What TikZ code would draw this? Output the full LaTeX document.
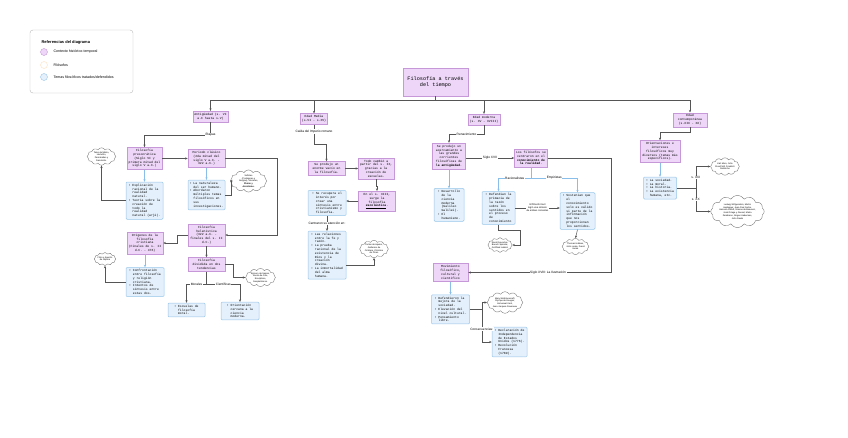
\documentclass[tikz,border=0pt]{standalone}
\usepackage{fontspec}
\setmainfont{Liberation Sans}
\newfontfamily\monofont{Liberation Mono}
\usetikzlibrary{shapes,arrows.meta,positioning,calc}
\definecolor{eraFill}{RGB}{237,214,247}
\definecolor{eraLine}{RGB}{198,152,216}
\definecolor{themeFill}{RGB}{228,240,251}
\definecolor{themeLine}{RGB}{152,197,233}
\definecolor{linkGray}{RGB}{85,85,85}
\definecolor{linkBlue}{RGB}{138,190,234}
\definecolor{cloudLine}{RGB}{125,125,125}
\newcommand{\ind}{\hphantom{•\ }}

\begin{document}
\begin{tikzpicture}[
    x=1pt, y=-1pt,
    node distance=12pt,
    era/.style={rectangle, draw=eraLine, fill=eraFill, line width=0.5pt, align=center, inner xsep=1.5pt, inner ysep=2pt, font=\monofont\fontsize{3.1}{3.8}\selectfont},
    theme/.style={rectangle, rounded corners=1pt, draw=themeLine, fill=themeFill, line width=0.5pt, align=left, inner xsep=1.5pt, inner ysep=2pt, font=\monofont\fontsize{3.1}{3.8}\selectfont},
    thinker/.style={cloud, cloud puffs=12, cloud puff arc=120, aspect=2, draw=cloudLine, fill=white, line width=0.4pt, align=center, inner sep=0pt, font=\fontsize{2.2}{2.7}\selectfont},
    lbl/.style={fill=white, inner sep=0.6pt, align=center, font=\fontsize{3.2}{3.8}\selectfont},
    link/.style={draw=linkGray, line width=0.5pt, -{Stealth[length=2.6pt,width=2.2pt]}},
    sublink/.style={link, draw=linkBlue},
    dot/.style={circle, minimum size=7pt, inner sep=0pt, line width=0.4pt}
]
    \useasboundingbox (0,0) rectangle (848,438);

    % legend
    \node[draw=gray!55, rounded corners=3pt, line width=0.4pt, minimum width=103pt, minimum height=63pt] (legend) at (81.5,61.5) {};
    \node[anchor=west, font=\bfseries\fontsize{4}{4.8}\selectfont] (legtitle) at (38,42) {Referencias del diagrama};
    \node[dot, draw=eraLine, fill=eraFill] (legera) at (44,52) {};
    \node[dot, draw=orange!25, fill=white] (legphil) at (44,65) {};
    \node[dot, draw=themeLine, fill=themeFill] (legtheme) at (44,77) {};
    \node[anchor=west, font=\fontsize{3.6}{4.2}\selectfont] (legeratxt) at (50,52) {Contexto histórico-temporal};
    \node[anchor=west, font=\fontsize{3.6}{4.2}\selectfont] (legphiltxt) at (50,65) {Filósofos};
    \node[anchor=west, font=\fontsize{3.6}{4.2}\selectfont] (legthemetxt) at (50,77) {Temas filosóficos tratados/defendidos};

    \node[era, minimum width=65pt, minimum height=28pt, font=\monofont\fontsize{5.2}{6.3}\selectfont] (title) at (435.5,82) {Filosofía a través\\del tiempo};

    % Antigüedad
    \node[era, minimum width=35pt] (ant) at (210.5,116.5) {Antigüedad (s. VI\\a.C hasta s.V)};
    \node[era, minimum width=35pt] (presoc) at (144.5,158.5) {Filosofía\\presocrática\\(Siglo VI y\\primera mitad del\\siglo V a.C.)};
    \node[era, minimum width=37pt] (clasico) at (206.5,158.5) {Periodo clásico\\(2da mitad del\\siglo V a.C. -\\322 a.C.)};
    \node[theme, minimum width=37pt, below=12pt of presoc] (explic) {• Explicación\\\ind racional de la\\\ind realidad\\\ind natural.\\• Teoría sobre la\\\ind creación de\\\ind todo la\\\ind realidad\\\ind natural (arjé).};
    \node[theme, minimum width=37pt, below=12pt of clasico] (natur) {• La naturaleza\\\ind del ser humano.\\• Abordaron\\\ind múltiples temas\\\ind filosóficos en\\\ind sus\\\ind investigaciones.};
    \node[thinker] (tales) at (101.5,156.5) {Tales de Mileto,\\Heráclito,\\Parménides y\\Demócrito.};
    \node[thinker] (sofistas) at (248.5,181) {Sofistas\\(Protágoras y\\Gorgias), Sócrates,\\\textbf{Platón y}\\\textbf{Aristóteles.}};
    \node[era, minimum width=37pt] (hel) at (206.5,235) {Filosofía\\helenística\\(322 a.C. -\\finales del s. II\\d.C.)};
    \node[era, minimum width=36pt] (orig) at (145,243) {Orígenes de la\\filosofía\\cristiana\\(Finales de s. II\\d.C. - 476)};
    \node[theme, minimum width=38pt, below=13pt of orig] (confr) {• Confrontación\\\ind entre filosofía\\\ind y religión\\\ind cristiana.\\• Intentos de\\\ind síntesis entre\\\ind estas dos.};
    \node[thinker] (filon) at (105,259) {Filón y Agustín\\de Hipona};
    \node[era, minimum width=37pt, below=11pt of hel] (divid) {Filosofía\\dividida en dos\\tendencias};
    \node[thinker] (epicuro) at (260.5,277.5) {Epicuro de Samos,\\Zenón de Citio,\\Escépticos,\\Neoplatónicos.};
    \node[theme, minimum width=37pt] (moral) at (186.5,310) {• Escuelas de\\\ind filosofía\\\ind moral.};
    \node[theme, minimum width=38pt] (cienc) at (240,311) {• Orientación\\\ind cercana a la\\\ind ciencia\\\ind moderna.};

    % Edad Media
    \node[era, minimum width=26pt] (med) at (314,119) {Edad Media\\(s.VI - s.XV)};
    \node[era, minimum width=37pt] (vacio) at (326.5,168.5) {Se produjo un\\enorme vacío en\\la filosofía.};
    \node[era, minimum width=30pt, right=13pt of vacio] (todo) {Todo cambió a\\partir del s. IX,\\gracias a la\\creación de\\escuelas.};
    \node[era, minimum width=37pt] (esc) at (377,201) {En el s. XIII,\\surge la\\filosofía\\\textbf{\underline{escolástica}}.};
    \node[theme, minimum width=38pt] (recup) at (327,203) {• Se recupera el\\\ind interés por\\\ind crear una\\\ind síntesis entre\\\ind cristianismo y\\\ind filosofía.};
    \node[theme, minimum width=38pt, below=15pt of recup] (rel) {• Las relaciones\\\ind entre la fe y\\\ind razón.\\• La prueba\\\ind racional de la\\\ind existencia de\\\ind Dios y la\\\ind creación\\\ind divina.\\• La inmortalidad\\\ind del alma\\\ind humana.};
    \node[thinker] (aquino) at (374,249) {Tomás de Aquino,\\Guillermo de\\Ockham, Christine\\de Pizan};

    % Edad moderna
    \node[era, minimum width=31pt] (mod) at (484,119.5) {Edad moderna\\(s. XV - XVIII)};
    \node[era, minimum width=33pt] (acerc) at (449,156) {Se produjo un\\acercamiento a\\las grandes\\corrientes\\filosóficas de\\\textbf{la antigüedad}.};
    \node[era, minimum width=33pt] (filos) at (531,158) {Los filósofos se\\centraron en el\\\textbf{conocimiento de}\\\textbf{la realidad}.};
    \node[theme, minimum width=30pt, below=19pt of acerc] (desar) {• Desarrollo\\\ind de la\\\ind ciencia\\\ind moderna\\\ind (Galileo\\\ind Galilei).\\• El\\\ind humanismo.};
    \node[theme, minimum width=33pt] (rac) at (498.5,208) {• Defendían la\\\ind primacía de\\\ind la razón\\\ind sobre los\\\ind sentidos en\\\ind el proceso\\\ind de\\\ind conocimiento};
    \node[theme, minimum width=35pt] (emp) at (577.5,211) {• Sostenían que\\\ind el\\\ind conocimiento\\\ind solo es válido\\\ind si parte de la\\\ind información\\\ind que nos\\\ind proporcionan\\\ind los sentidos.};
    \node[thinker] (descartes) at (500,245) {René Descartes,\\Baruch Spinoza,\\Gottfried Leibniz};
    \node[thinker] (hobbes) at (575.5,246.5) {Thomas Hobbes,\\John Locke, David\\Hume};
    \node[era, minimum width=35pt] (movim) at (450.5,272.5) {Movimiento\\filosófico,\\cultural y\\científico};
    \node[theme, minimum width=38pt, below=13pt of movim] (defend) {• Defendieron la\\\ind mejora de la\\\ind sociedad.\\• Elevación del\\\ind nivel cultural.\\• Pensamiento\\\ind libre.};
    \node[thinker] (wollst) at (505,302.5) {Mary Wollstonecraft,\\Olympe de Gouges,\\Immanuel Kant,\\Jean-Jacques Rousseau};
    \node[theme, minimum width=35pt] (decl) at (509.5,342) {• Declaración de\\\ind Independencia\\\ind de Estados\\\ind Unidos (1776).\\• Revolución\\\ind Francesa\\\ind (1789).};

    % Edad contemporánea
    \node[era, minimum width=34pt] (cont) at (690,120) {Edad\\contemporánea\\(s.XIX - XX)};
    \node[era, minimum width=40pt] (orient) at (660,151.5) {Orientaciones e\\intereses\\filosóficos muy\\diversos (temas más\\específicos).};
    \node[theme, minimum width=33pt, below=14pt of orient] (temas) {• La sociedad.\\• La moral.\\• La historia.\\• La existencia\\\ind humana, etc.};
    \node[thinker] (marx) at (725,166.5) {Karl Marx, John\\Stuart Mill, Friedrich\\Nietzsche};
    \node[thinker] (wittg) at (737.5,211.5) {Ludwig Wittgenstein, Martin\\Heidegger, Jean-Paul Sartre,\\Hannah Arendt, Simone de Beauvoir,\\José Ortega y Gasset, María\\Zambrano, Jürgen Habermas,\\John Rawls};

    % connectors
    \draw[draw=linkGray, line width=0.5pt] (title.south) -- ++(0,4) coordinate (hub);
    \draw[link] (hub) -| (ant.north);
    \draw[link] (hub) -| (med.north);
    \draw[link] (hub) -| (mod.north);
    \draw[link] (hub) -| (cont.north);

    \draw[link] (ant.south) -- ++(0,13) node[lbl]{Etapas} -| (presoc.north);
    \draw[link] (presoc.east) -- (clasico.west);
    \draw[link] (clasico.east) -- ++(52,0) |- (hel.east);
    \draw[sublink] (presoc.south) -- (explic.north);
    \draw[sublink] (clasico.south) -- (natur.north);
    \draw[link] (explic.west) -| (tales.south);
    \draw[link] (natur.east) -- ++(6,0) |- (sofistas.west);
    \draw[link] (hel.west) -- ++(-11,0) |- (orig.east);
    \draw[sublink] (orig.south) -- (confr.north);
    \draw[link] (confr.west) -| (filon.south);
    \draw[link] (hel.south) -- (divid.north);
    \draw[link] (divid.east) -- ++(8,0) |- (epicuro.west);
    \draw[draw=linkGray, line width=0.5pt] (divid.south) -- ++(0,13) coordinate (tsplit);
    \draw[link] (tsplit) -| node[lbl, pos=0.25]{Morales} (moral.north);
    \draw[link] (tsplit) -| node[lbl, pos=0.25]{Científicas} (cienc.north);

    \draw[link] (med.south) -- ++(0,19.5) node[lbl, pos=0.35]{Caída del Imperio romano} -| (vacio.north);
    \draw[link] (vacio.east) -- (todo.west);
    \draw[link] (todo.south) -- ++(0,7) -| (esc.north);
    \draw[link] (esc.west) -- (esc.west -| recup.east);
    \draw[link] (recup.south) -- node[lbl]{Centraron su atención en:} (rel.north);
    \draw[link] ([yshift=-10pt]rel.east) -| (aquino.south);

    \draw[link] (mod.south) -- ++(0,9) -| node[lbl, pos=0.25]{Renacimiento} (acerc.north);
    \draw[link] (acerc.east |- filos.west) -- node[lbl]{Siglo XVII} (filos.west);
    \draw[sublink] (acerc.south) -- (desar.north);
    \draw[draw=linkBlue, line width=0.5pt] (filos.south) -- ++(0,11) coordinate (fsplit);
    \draw[sublink] (fsplit) -| node[lbl, pos=0.25]{Racionalistas} (rac.north);
    \draw[sublink] (fsplit) -| node[lbl, pos=0.25]{Empiristas} (emp.north);
    \draw[link] (rac.east) -- node[lbl, font=\fontsize{2.4}{2.9}\selectfont]{El filósofo Kant\\logró una síntesis\\de ambas corrientes} (rac.east -| emp.west);
    \draw[link] (rac.south) -- ++(0,6) -| ($(descartes.east)+(8,0)$) -- (descartes.east);
    \draw[link] (emp.south) -- (hobbes.north);
    \draw[link] (filos.east) -- ++(63,0) |- node[lbl, pos=0.72]{Siglo XVIII: La Ilustración} (movim.east);
    \draw[sublink] (movim.south) -- (defend.north);
    \draw[draw=linkGray, line width=0.5pt] (defend.east) -- ++(12,0) coordinate (dsplit);
    \draw[link] (dsplit) |- (wollst.west);
    \draw[link] (dsplit) |- node[lbl, pos=0.3]{Consecuencias:} (decl.west);

    \draw[link] (cont.south) -- ++(0,5) -| (orient.north);
    \draw[sublink] (orient.south) -- (temas.north);
    \draw[draw=linkGray, line width=0.5pt] (temas.east) -- ++(19,0) coordinate (csplit);
    \draw[link] (csplit) |- node[lbl, pos=0.25]{s. XIX} (marx.west);
    \draw[link] (csplit) |- node[lbl, pos=0.25]{s. XX} (wittg.west);
\end{tikzpicture}
\end{document}
